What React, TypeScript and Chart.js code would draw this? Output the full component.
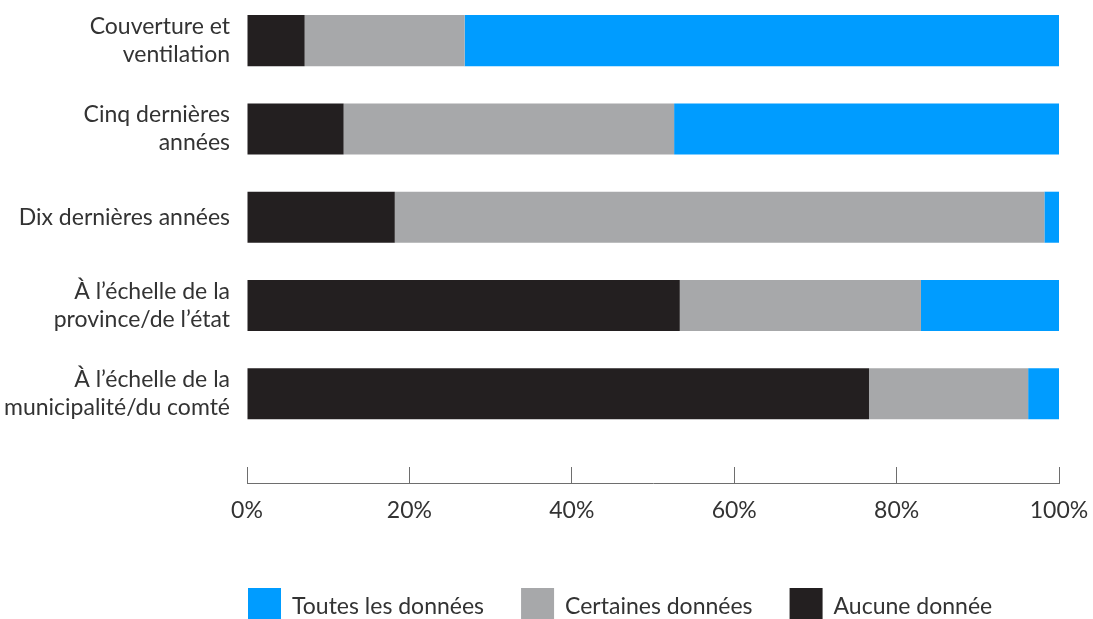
import React, { useEffect, useRef } from "react";
import { Chart, registerables } from "chart.js";

Chart.register(...registerables);

// Categories (multi-line labels), top to bottom
const categories: string[][] = [
  ["Couverture et", "ventilation"],
  ["Cinq dernières", "années"],
  ["Dix dernières années"],
  ["À l’échelle de la", "province/de l’état"],
  ["À l’échelle de la", "municipalité/du comté"],
];

// Share of respondents (%)
const aucuneDonnee: number[] = [7.1, 11.9, 18.2, 53.3, 76.6];
const certainesDonnees: number[] = [19.7, 40.7, 80.0, 29.7, 19.6];
const toutesDonnees: number[] = [73.2, 47.4, 1.8, 17.0, 3.8];

const xTicks: number[] = [0, 20, 40, 60, 80, 100];

const FONT = "Lato, 'Open Sans', sans-serif";
const FONT_SIZE = 23;
const TEXT = "#333333";

const toPoints = (values: number[]) => values.map((x, i) => ({ x, y: i }));

// Legend drawn under the axis, starting at the left edge of the plot
const legendPlugin = {
  id: "bottomLegend",
  afterDraw(chart: any) {
    const ctx = chart.ctx;
    const left = chart.chartArea.left + 1;
    const boxTop = chart.height - 31;
    const boxW = 33;
    const boxH = 40;
    ctx.save();
    ctx.font = `${FONT_SIZE}px ${FONT}`;
    ctx.textBaseline = "middle";
    ctx.textAlign = "left";
    let x = left;
    const items = [...chart.data.datasets].reverse();
    items.forEach((ds: any) => {
      ctx.fillStyle = ds.backgroundColor;
      ctx.fillRect(x, boxTop, boxW, boxH);
      const tx = x + boxW + 11;
      ctx.fillStyle = TEXT;
      ctx.fillText(ds.label, tx, boxTop + 19);
      x = tx + ctx.measureText(ds.label).width + 37;
    });
    ctx.restore();
  },
};

export default function App() {
  const ref = useRef<HTMLCanvasElement>(null);

  useEffect(() => {
    if (!ref.current) return;
    const chart = new Chart(ref.current, {
      type: "bar",
      data: {
        datasets: [
          {
            label: "Aucune donnée",
            data: toPoints(aucuneDonnee),
            backgroundColor: "#231F20",
            borderWidth: 0,
          },
          {
            label: "Certaines données",
            data: toPoints(certainesDonnees),
            backgroundColor: "#A7A8AA",
            borderWidth: 0,
          },
          {
            label: "Toutes les données",
            data: toPoints(toutesDonnees),
            backgroundColor: "#009CFF",
            borderWidth: 0,
          },
        ],
      },
      plugins: [legendPlugin],
      options: {
        indexAxis: "y",
        animation: false,
        responsive: false,
        devicePixelRatio: 1,
        layout: { padding: { top: 0, right: 34, bottom: 96, left: 0 } },
        datasets: {
          bar: { categoryPercentage: 1, barPercentage: 0.578 },
        },
        plugins: {
          legend: { display: false },
          tooltip: { enabled: false },
        },
        scales: {
          x: {
            type: "linear",
            stacked: true,
            min: 0,
            max: 100,
            afterBuildTicks: (scale: any) => {
              scale.ticks = xTicks.map((v) => ({ value: v }));
            },
            afterFit: (scale: any) => {
              scale.height = 40;
              scale.paddingLeft = 0;
              scale.paddingRight = 0;
            },
            grid: {
              display: true,
              drawOnChartArea: false,
              drawTicks: true,
              tickLength: -16,
              color: "#6E6E6E",
              lineWidth: 1,
            },
            border: { display: true, color: "#6E6E6E", width: 1 },
            ticks: {
              padding: 30,
              color: TEXT,
              font: { family: FONT, size: FONT_SIZE },
              callback: (v: any) => `${v}%`,
            },
          },
          y: {
            type: "linear",
            stacked: true,
            reverse: true,
            offset: false,
            min: -0.46,
            max: 5.01,
            afterBuildTicks: (scale: any) => {
              scale.ticks = categories.map((_, i) => ({ value: i }));
            },
            afterFit: (scale: any) => {
              scale.width = 247;
              scale.paddingTop = 0;
              scale.paddingBottom = 0;
            },
            grid: { display: false, drawTicks: false },
            border: { display: false },
            ticks: {
              padding: 17,
              color: TEXT,
              font: { family: FONT, size: FONT_SIZE, lineHeight: 28 / FONT_SIZE },
              callback: (v: any) => categories[v] ?? "",
            },
          },
        },
      },
    });
    return () => chart.destroy();
  }, []);

  return (
    <div style={{ position: "absolute", left: 0, top: 0, width: 1093, height: 619 }}>
      <canvas ref={ref} width={1093} height={619} style={{ display: "block" }} />
    </div>
  );
}
